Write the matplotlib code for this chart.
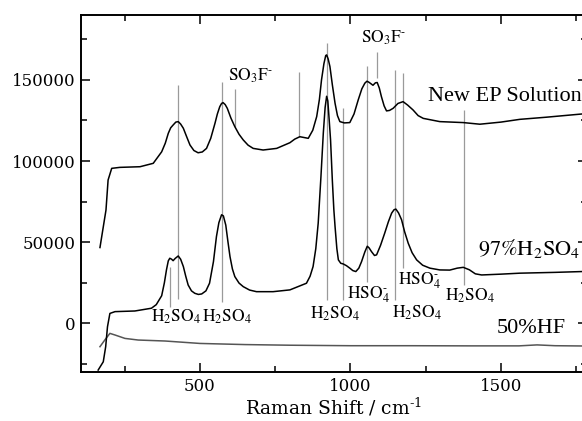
import matplotlib
matplotlib.use("Agg")
import matplotlib.pyplot as plt
from matplotlib.ticker import MultipleLocator

# ---- spectra (Raman shift, intensity) ----
ep_x = [168, 188, 195, 207, 234, 301, 345, 373, 385, 395, 403, 411, 420, 428, 436,
        445, 456, 467, 480, 494, 508, 522, 536, 550, 558, 566, 572, 577, 584, 591,
        603, 616, 630, 644, 660, 677, 710, 755, 799, 815, 832, 846, 860, 875, 888,
        897, 904, 912, 918, 921, 926, 932, 940, 949, 957, 965, 980, 998, 1012,
        1026, 1038, 1048, 1055, 1062, 1075, 1083, 1089, 1096, 1103, 1112, 1120,
        1130, 1142, 1158, 1175, 1190, 1208, 1225, 1242, 1297, 1375, 1430, 1500,
        1563, 1650, 1769, 1790]
ep_y = [46700, 69800, 88300, 95500, 96100, 96500, 98600, 105700, 111000, 117100,
        120500, 122200, 124000, 124300, 122800, 120200, 115000, 109900, 106500,
        105100, 105600, 107800, 114000, 123200, 129000, 133500, 135500, 136000,
        134800, 132500, 126500, 121200, 116500, 113000, 109800, 107800, 106800,
        107800, 111300, 113500, 115000, 114500, 114000, 119000, 127400, 138000,
        150000, 160000, 165000, 165400, 163000, 158200, 147000, 135600, 128000,
        124300, 123500, 123700, 129000, 137700, 144500, 148000, 149200, 148500,
        146700, 148200, 148400, 145000, 139700, 134000, 130900, 131200, 132500,
        135500, 136600, 134500, 131500, 128000, 126300, 124300, 123700, 122700,
        124000, 125700, 127000, 129000, 129200]

h2so4_x = [162, 179, 187, 193, 201, 218, 284, 339, 355, 373, 382, 389, 395, 400,
           406, 411, 418, 428, 436, 445, 453, 461, 472, 483, 495, 506, 520, 532,
           545, 555, 563, 572, 578, 586, 593, 600, 608, 616, 630, 644, 665, 688,
           743, 799, 854, 866, 876, 885, 893, 902, 910, 916, 921, 925, 930, 934,
           940, 945, 949, 955, 960, 968, 976, 987, 998, 1008, 1018, 1028, 1037,
           1048, 1056, 1062, 1070, 1080, 1087, 1100, 1114, 1126, 1137, 1145, 1151,
           1160, 1170, 1180, 1192, 1205, 1220, 1240, 1264, 1297, 1330, 1355, 1375,
           1395, 1415, 1436, 1500, 1563, 1680, 1769, 1790]
h2so4_y = [-28800, -23700, -14400, -2100, 6100, 7200, 7600, 9300, 11500, 17000,
           25000, 33000, 38500, 40100, 39500, 38600, 40000, 41500, 39500, 35000,
           29000, 23600, 20000, 18500, 17800, 18100, 20000, 24700, 38000, 53500,
           62000, 66900, 66200, 60500, 50500, 41100, 33500, 28800, 24800, 22600,
           20500, 19500, 19500, 20600, 24700, 29000, 35000, 46000, 61700, 90000,
           117300, 133000, 139900, 137000, 124000, 113200, 88000, 70000, 59600,
           46000, 39100, 37000, 36600, 35500, 34000, 32500, 31900, 34000, 38000,
           44000, 47500, 46500, 44200, 41800, 42200, 48000, 55600, 62500, 67900,
           70000, 70400, 68000, 63800, 56500, 49400, 43500, 39100, 35800, 34000,
           32900, 32800, 34000, 34500, 33000, 30500, 29800, 30300, 30900, 31400,
           31900, 32000]

hf_x = [168, 184, 201, 218, 251, 295, 384, 500, 650, 800, 1000, 1200, 1400, 1560,
        1620, 1680, 1790]
hf_y = [-14400, -10300, -6200, -7200, -9300, -10300, -10900, -12400, -13100,
        -13500, -13800, -13800, -13900, -13900, -13300, -13800, -14000]

# ---- band markers: position, bottom, top ----
mark_x = [400, 428, 574, 615, 830, 921, 974, 1056, 1087, 1147, 1175, 1376]
mark_lo = [10200, 14800, 13300, 120800, 115100, 14400, 14400, 25700, 151000,
           14400, 33900, 23600]
mark_hi = [35000, 147000, 149000, 144300, 155100, 172800, 132500, 158600, 166900,
           156400, 154400, 131500]

# ---- labels: text, x, y ----
band_labels = [r"$\mathrm{SO_3F^{\text{-}}}$", r"$\mathrm{SO_3F^{\text{-}}}$",
               r"$\mathrm{H_2SO_4}$", r"$\mathrm{H_2SO_4}$", r"$\mathrm{H_2SO_4}$",
               r"$\mathrm{HSO_4^{\text{-}}}$", r"$\mathrm{H_2SO_4}$",
               r"$\mathrm{HSO_4^{\text{-}}}$", r"$\mathrm{H_2SO_4}$"]
band_label_x = [669, 1111, 420, 591, 948, 1061, 1220, 1230, 1397]
band_label_y = [152500, 175900, 4100, 4100, 5700, 17500, 6300, 26100, 16900]

fig = plt.figure(figsize=(5.82, 4.21), dpi=100)
ax = fig.add_axes([81 / 582, 49 / 421, 506 / 582, 357 / 421])

for x, lo, hi in zip(mark_x, mark_lo, mark_hi):
    ax.vlines(x, lo, hi, color="#9a9a9a", lw=0.9, zorder=1)

ax.plot(ep_x, ep_y, color="black", lw=1.1, zorder=3)
ax.plot(h2so4_x, h2so4_y, color="black", lw=1.1, zorder=3)
ax.plot(hf_x, hf_y, color="#555555", lw=1.1, zorder=2)

for t, x, y in zip(band_labels, band_label_x, band_label_y):
    ax.text(x, y, t, fontsize=12.5, ha="center", va="center", math_fontfamily="stix")

ax.text(1258, 139500, "New EP Solution", fontsize=16, family="Liberation Serif",
        va="center", ha="left")
ax.text(1424, 45900, r"97%$\mathrm{H_2SO_4}$", fontsize=16, family="STIXGeneral",
        va="center", ha="left", math_fontfamily="stix")
ax.text(1486, -2900, "50%HF", fontsize=16, family="Liberation Serif",
        va="center", ha="left")

ax.set_xlim(105, 1786)
ax.set_ylim(-30000, 190000)
ax.xaxis.set_major_locator(MultipleLocator(500))
ax.xaxis.set_minor_locator(MultipleLocator(250))
ax.yaxis.set_major_locator(MultipleLocator(50000))
ax.yaxis.set_minor_locator(MultipleLocator(25000))
ax.tick_params(which="both", direction="in", top=True, right=True, width=1.1,
               labelsize=12, labelfontfamily="DejaVu Serif", pad=4)
ax.tick_params(which="major", length=6.5)
ax.tick_params(which="minor", length=4)
for s in ax.spines.values():
    s.set_linewidth(1.4)

ax.set_xlabel(r"Raman Shift / cm$^{\text{-1}}$", fontsize=13.5,
              family="DejaVu Serif", labelpad=1, math_fontfamily="dejavuserif")

fig.savefig("out.png", dpi=100)
